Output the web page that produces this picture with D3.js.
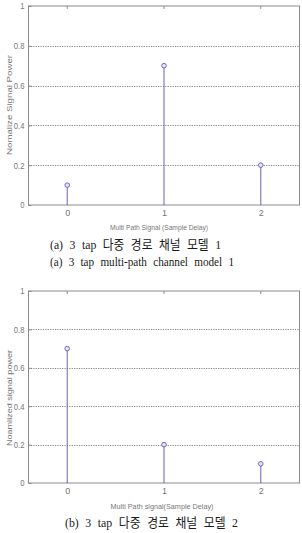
<!DOCTYPE html>
<html>
<head>
<meta charset="utf-8">
<script src="https://cdn.jsdelivr.net/npm/d3@7"></script>
<style>
  body { margin: 0; background: #fff; }
  svg { display: block; }
  .grid line { stroke: #666; stroke-dasharray: 1.2 1.2; stroke-width: 0.8; }
</style>
</head>
<body>
<script>
// data for the two channel models
var delays = [0, 1, 2];
var model1Power = [0.1, 0.7, 0.2];
var model2Power = [0.7, 0.2, 0.1];
var yTicks = [0, 0.2, 0.4, 0.6, 0.8, 1];
var yTickLabels = ["0", "0.2", "0.4", "0.6", "0.8", "1"];

var width = 302, height = 533;

var svg = d3.select("body").append("svg")
    .attr("width", width)
    .attr("height", height);

//draw one stem plot panel
function drawPanel(opt){
    var x = d3.scaleLinear().domain([-0.4, 2.4]).range([28.5, 299.5]);
    var y = d3.scaleLinear().domain([0, 1]).range([opt.bottom, opt.top]);

    var g = svg.append("g");

    //dotted grid lines
    g.append("g").attr("class", "grid")
        .selectAll("line")
        .data(yTicks.filter(function(d){ return d > 0 && d < 1; }))
        .enter().append("line")
        .attr("x1", x.range()[0]).attr("x2", x.range()[1])
        .attr("y1", function(d){ return Math.round(y(d)) + 0.5; })
        .attr("y2", function(d){ return Math.round(y(d)) + 0.5; });

    //frame
    g.append("rect")
        .attr("x", x.range()[0]).attr("y", y(1))
        .attr("width", x.range()[1] - x.range()[0])
        .attr("height", y(0) - y(1))
        .attr("fill", "none").attr("stroke", "#8a8a8a").attr("stroke-width", 1);

    //y axis
    var yAxis = d3.axisLeft(y).tickValues(yTicks)
        .tickFormat(function(d, i){ return yTickLabels[i]; })
        .tickSize(-3).tickPadding(4);
    var ya = g.append("g").attr("transform", "translate(" + x.range()[0] + ",0)").call(yAxis);
    ya.select(".domain").remove();
    ya.selectAll("line").attr("stroke", "#8a8a8a");
    ya.selectAll("text").attr("font-family", "Liberation Sans Narrow, Liberation Sans, sans-serif")
        .attr("font-size", 9).attr("fill", "#777")
        .attr("transform", "scale(0.85,1)")
        .attr("x", -4 / 0.85);

    //x axis
    var xAxis = d3.axisBottom(x).tickValues(delays).tickSize(0).tickPadding(5)
        .tickFormat(d3.format("d"));
    var xa = g.append("g").attr("transform", "translate(0," + y(0) + ")").call(xAxis);
    xa.select(".domain").remove();
    xa.selectAll("text").attr("font-family", "Liberation Sans Narrow, Liberation Sans, sans-serif")
        .attr("font-size", 9).attr("fill", "#777");

    //top tick marks
    g.selectAll(".topTick").data(delays).enter().append("line")
        .attr("x1", function(d){ return x(d); }).attr("x2", function(d){ return x(d); })
        .attr("y1", y(1)).attr("y2", y(1) + 3)
        .attr("stroke", "#8a8a8a");

    //stems
    g.selectAll(".stem").data(opt.values).enter().append("line")
        .attr("x1", function(d, i){ return x(delays[i]); })
        .attr("x2", function(d, i){ return x(delays[i]); })
        .attr("y1", y(0)).attr("y2", function(d){ return y(d); })
        .attr("stroke", "#6b62b3").attr("stroke-width", 1);

    //markers
    g.selectAll(".mark").data(opt.values).enter().append("circle")
        .attr("cx", function(d, i){ return x(delays[i]); })
        .attr("cy", function(d){ return y(d); })
        .attr("r", 2.3)
        .attr("fill", "#e6e4f6").attr("stroke", "#6f68c6").attr("stroke-width", 1);

    //axis titles
    g.append("text")
        .attr("x", opt.xTitleX).attr("y", opt.xTitleY)
        .attr("text-anchor", "middle")
        .attr("font-family", "Liberation Sans, sans-serif")
        .attr("font-size", 7.5).attr("fill", "#777")
        .attr("textLength", opt.xTitleLen).attr("lengthAdjust", "spacingAndGlyphs")
        .text(opt.xTitle);

    g.append("text")
        .attr("transform", "translate(11.5," + opt.yTitleMid + ") rotate(-90)")
        .attr("text-anchor", "middle")
        .attr("font-family", "Liberation Sans, sans-serif")
        .attr("font-size", 7.5).attr("fill", "#777")
        .attr("textLength", opt.yTitleLen).attr("lengthAdjust", "spacingAndGlyphs")
        .text(opt.yTitle);

    //captions
    opt.captions.forEach(function(c){
        g.append("text")
            .attr("x", c.x).attr("y", c.y)
            .attr("font-family", "Liberation Serif, Noto Sans CJK KR, serif")
            .attr("font-size", 13).attr("fill", "#1a1a1a")
            .attr("word-spacing", 4)
            .attr("textLength", c.len).attr("lengthAdjust", "spacingAndGlyphs")
            .text(c.text);
    });
}

drawPanel({
    top: 6, bottom: 205,
    values: model1Power,
    xTitle: "Multi Path Signal (Sample Delay)",
    xTitleX: 159, xTitleLen: 98, xTitleY: 230,
    yTitle: "Nomalize Signal Power",
    yTitleMid: 105, yTitleLen: 100,
    captions: [
        {text: "(a) 3 tap 다중 경로 채널 모델 1", x: 50, y: 249, len: 171},
        {text: "(a) 3 tap multi-path channel model 1", x: 50, y: 266, len: 184}
    ]
});

drawPanel({
    top: 291, bottom: 483,
    values: model2Power,
    xTitle: "Multi Path signal(Sample Delay)",
    xTitleX: 162, xTitleLen: 103, xTitleY: 509,
    yTitle: "Noamlized signal power",
    yTitleMid: 398, yTitleLen: 96,
    captions: [
        {text: "(b) 3 tap 다중 경로 채널 모델 2", x: 65, y: 527, len: 173}
    ]
});
</script>
</body>
</html>
